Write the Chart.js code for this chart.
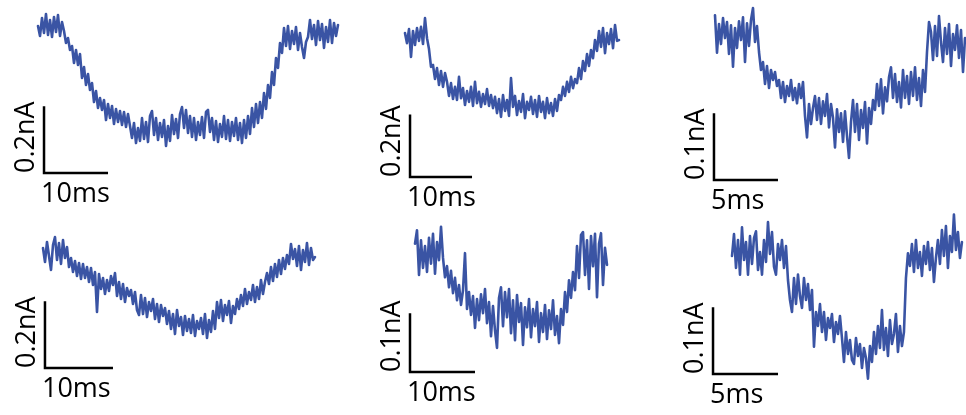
<!DOCTYPE html>
<html>
<head>
<meta charset="utf-8">
<script src="https://cdn.jsdelivr.net/npm/chart.js@4.4.1/dist/chart.umd.min.js"></script>
<style>
  html, body { margin: 0; padding: 0; background: #fff; }
  #wrap { position: relative; width: 966px; height: 415px; }
</style>
</head>
<body>
<div id="wrap"><canvas id="traces" width="966" height="415"></canvas></div>
<script>
const trace1 = [6,-24,30,-15,42,-21,24,-27,33,-12,39,-24,18,-9,
  -45,-30,-66,
  -54,-105,-66,-111,-78,
  -150,-117,-171,-138,-186,
  -165,-222,-189,-240,-210,
  -246,-216,-276,-228,-270,-234,-288,-243,-282,-249,-291,-252,-297,-258,-294,
  -330,-285,-345,-300,-339,
  -270,-333,-282,-342,-264,-249,-321,-270,-336,-285,-327,-276,-354,-294,-339,-261,-318,-273,-330,-258,
  -237,-300,-246,-315,-264,-327,-270,-336,-282,-321,-267,-330,-252,-246,-312,-270,-336,-279,-342,-288,
  -327,-264,-333,-276,-339,-282,-324,-270,-336,-285,-345,-276,-330,-264,-318,
  -240,-297,-228,
  -285,-222,-270,-195,-243,-171,-210,-132,-171,-90,-120,-45,
  -75,0,-54,6,-63,-9,-48,3,-66,-15,-57,
  -90,-42,
  -27,24,-33,
  9,-51,21,-36,12,-60,3,-42,24,-45,15,-24,9];
const trace2 = [6,-26,19,-70,13,-32,22,-19,26,-29,54,-10,
  -45,-102,-96,
  -141,-106,-160,-115,-166,-122,-150,
  -195,-154,-205,-166,-208,-134,
  -202,-170,-224,-179,-214,-166,-227,-150,-218,-182,-230,-189,-221,-173,-227,-192,-234,
  -198,-250,-205,-262,-192,-243,-208,-259,-138,-230,-195,-256,-211,-246,-189,-266,-214,-240,-198,-253,
  -208,-262,-195,-246,-214,-266,-202,-250,-218,-259,-205,-243,-192,
  -208,-166,-195,-150,-182,-134,-170,-141,-154,
  -106,-141,-83,-115,-61,-99,-48,-74,
  -16,-51,13,-38,22,-58,6,-29,19,-42,32,-19,-16];
const trace3 = [25,-31,12,-18,21,-9,15,-33,10,-52,6,-24,16,-12,22,-45,13,-21,18,36,-15,9,
  -30,-57,-45,
  -78,-51,-84,-57,-72,-60,-81,
  -72,-99,-75,-105,-81,-96,-72,-102,-84,-107,-78,-99,-75,
  -126,-158,-108,-138,-114,
  -96,-132,-99,-138,-104,-126,-93,-143,-108,-129,
  -173,-116,-150,-122,-165,-119,-156,-189,-135,-102,
  -150,-108,-162,-117,-144,-105,-167,-114,-138,-102,
  -117,-78,-111,-71,-122,-83,-104,-68,-53,-99,
  -63,-105,-75,-113,-57,-99,-66,-108,-60,-96,-53,-102,-69,-111,-57,-90,
  -30,15,0,
  -42,9,-36,24,-15,-45,6,-33,12,-51,-3,-27,10,-39,3,-60,-9];
const trace4 = [12,-30,30,-12,-54,21,45,-24,27,-36,36,-18,15,
  -45,-18,-60,-27,-72,-33,-81,-36,-78,-45,-90,-48,-99,-60,
  -180,
  -66,-111,-78,-126,-84,-117,-72,-99,-63,-132,-90,-141,-96,-150,-108,-132,-114,
  -156,-120,-174,-189,-129,-186,-138,-195,-150,-177,-141,-201,-156,-210,-159,-192,-168,
  -216,-177,-231,-186,-246,-174,-222,-195,-249,-192,-237,-201,-243,-189,-252,-207,-231,-198,-246,-186,
  -258,-204,-240,-177,-231,
  -150,-198,-144,-207,-159,-189,-147,-213,-162,-186,-141,-171,
  -129,-162,-111,-156,-120,-144,-99,-150,-105,-141,-84,-126,-90,
  -63,-96,-45,-87,-36,-75,-24,-66,-18,-51,-9,-36,
  24,-21,9,-42,18,-54,6,-30,27,-39,12,-24,-15];
const trace5 = [14,37,-39,20,-27,10,-34,24,-20,31,-37,17,-14,43,
  -10,-43,-24,-60,-32,-70,-44,-82,-56,
  -90,-65,-2,-97,-68,-107,-75,-129,-80,-116,-72,-104,-63,-121,-85,-143,
  -92,-133,-163,-78,-60,-126,-68,-111,-63,-138,-82,-150,-73,-119,-87,-158,-94,-128,
  -80,-145,-97,-126,-85,-153,-104,-136,-90,-148,-99,-131,-82,-141,-109,-155,
  -97,-124,-68,-102,-48,-78,-34,
  -65,10,-44,29,34,
  -39,20,-63,27,-24,31,-77,14,32,-56,7,-22];
const trace6 = [-12,21,-30,12,-40,31,-18,9,-40,18,-24,15,25,-33,-6,-40,12,-21,39,-9,24,-28,-40,6,-18,12,-30,3,
  -48,-78,-96,
  -45,-84,-40,-72,-90,-45,-78,-54,-93,-63,
  -148,-96,-117,-84,-126,-96,-138,-105,-120,-99,-141,-111,-129,-102,-135,
  -171,-126,-159,-138,-168,-174,-135,-162,-144,-180,-150,-165,-196,-147,-171,
  -126,-159,-117,-150,-93,-153,-120,-162,-108,-144,-129,-99,-156,-117,-147,-126,
  -45,-8,
  -27,6,-36,12,-30,-6,-42,3,-24,9,-33,0,-51,-15,
  12,-24,27,-12,33,-30,18,-6,50,-3,24,-15,9];

const traces = [trace1, trace2, trace3, trace4, trace5, trace6];
// sample interval of each trace, ms
const sampleMs = [0.3125, 0.3226, 0.15625, 0.2941, 0.3077, 0.1538];

// scale bars
const barMs = [10, 10, 5, 10, 10, 5];
const barPA = [200, 200, 100, 200, 100, 100];
const barTimeLabels = ['10ms', '10ms', '5ms', '10ms', '10ms', '5ms'];
const barCurrentLabels = ['0.2nA', '0.2nA', '0.1nA', '0.2nA', '0.1nA', '0.1nA'];

// page layout: pixel of t=0 / 0 pA, panel scale, scale-bar corner (ms, pA)
const panels = [
  { x0: 38,  y0: 28,  pxPerMs: 6.4,  pAPerPx: 3,   barT: 0.94,  barV: -435 },
  { x0: 405, y0: 35,  pxPerMs: 6.2,  pAPerPx: 3.2, barT: 0.81,  barV: -454 },
  { x0: 715, y0: 32,  pxPerMs: 12.8, pAPerPx: 1.5, barT: -0.08, barV: -222 },
  { x0: 43,  y0: 252, pxPerMs: 6.8,  pAPerPx: 3,   barT: 0.29,  barV: -348 },
  { x0: 415, y0: 252, pxPerMs: 6.5,  pAPerPx: 1.7, barT: -0.77, barV: -204 },
  { x0: 732, y0: 248, pxPerMs: 13,   pAPerPx: 1.5, barT: -1.46, barV: -189 }
];

const W = 966, H = 415;
const traceColor = '#3a54a4';
const fontSpec = '27px "Open Sans", sans-serif';

const scales = {};
const datasets = traces.map((vals, i) => {
  const p = panels[i];
  scales['x' + i] = {
    type: 'linear', display: false,
    min: -p.x0 / p.pxPerMs, max: (W - p.x0) / p.pxPerMs
  };
  scales['y' + i] = {
    type: 'linear', display: false,
    min: (p.y0 - H) * p.pAPerPx, max: p.y0 * p.pAPerPx
  };
  return {
    data: vals.map((v, k) => ({ x: k * sampleMs[i], y: v })),
    xAxisID: 'x' + i,
    yAxisID: 'y' + i,
    borderColor: traceColor,
    borderWidth: 2.6,
    borderJoinStyle: 'round',
    borderCapStyle: 'round',
    pointRadius: 0,
    tension: 0,
    clip: false
  };
});

// draws the L-shaped scale bars with their labels
const scaleBars = {
  id: 'scaleBars',
  afterDatasetsDraw(chart) {
    const ctx = chart.ctx;
    ctx.save();
    ctx.strokeStyle = '#000';
    ctx.fillStyle = '#000';
    ctx.lineWidth = 2.5;
    ctx.lineCap = 'butt';
    ctx.font = fontSpec;
    panels.forEach((p, i) => {
      const xs = chart.scales['x' + i], ys = chart.scales['y' + i];
      const left = xs.getPixelForValue(p.barT);
      const right = xs.getPixelForValue(p.barT + barMs[i]);
      const bottom = ys.getPixelForValue(p.barV);
      const top = ys.getPixelForValue(p.barV + barPA[i]);
      ctx.beginPath();
      ctx.moveTo(left, top);
      ctx.lineTo(left, bottom);
      ctx.lineTo(right, bottom);
      ctx.stroke();

      ctx.textAlign = 'left';
      ctx.textBaseline = 'alphabetic';
      ctx.fillText(barTimeLabels[i], left - 3, bottom + 29);

      ctx.save();
      ctx.translate(left - 10, bottom);
      ctx.rotate(-Math.PI / 2);
      ctx.fillText(barCurrentLabels[i], 0, 0);
      ctx.restore();
    });
    ctx.restore();
  }
};

new Chart(document.getElementById('traces'), {
  type: 'line',
  data: { datasets },
  options: {
    responsive: false,
    animation: false,
    devicePixelRatio: 1,
    events: [],
    layout: { padding: 0 },
    scales,
    plugins: { legend: { display: false }, tooltip: { enabled: false } }
  },
  plugins: [scaleBars]
});
</script>
</body>
</html>
